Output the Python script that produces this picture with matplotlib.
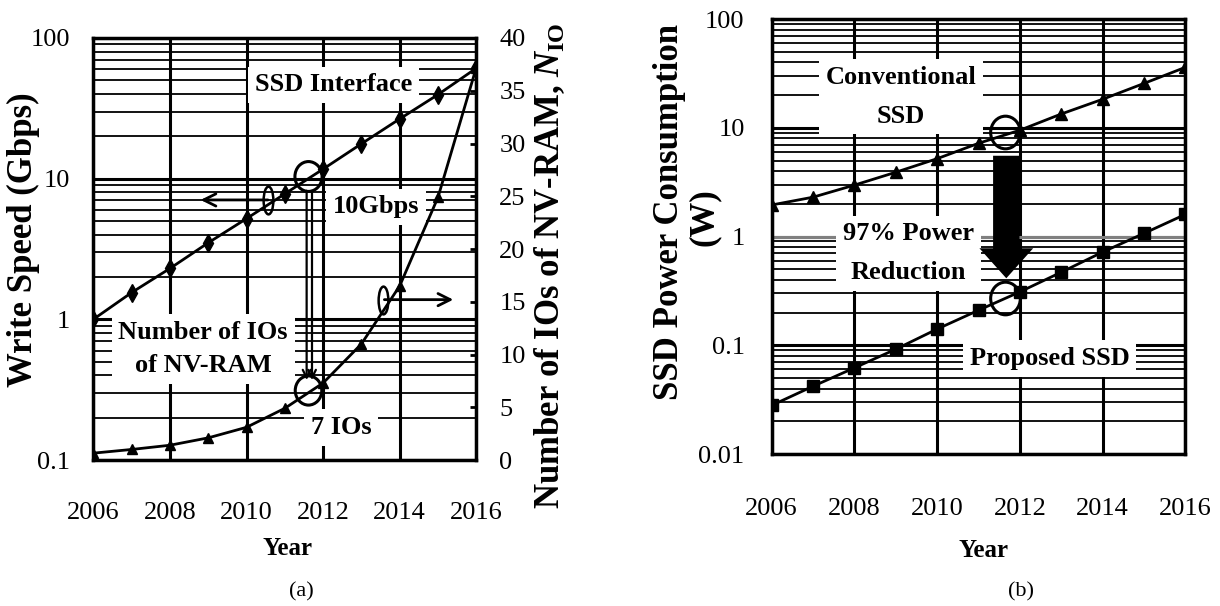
import numpy as np
import matplotlib
matplotlib.use("Agg")
import matplotlib.pyplot as plt
from matplotlib.path import Path
from matplotlib.ticker import LogLocator, NullFormatter, FixedLocator, FixedFormatter

plt.rcParams["font.family"] = "Liberation Serif"
plt.rcParams["mathtext.fontset"] = "custom"
plt.rcParams["mathtext.rm"] = "Liberation Serif:bold"
plt.rcParams["mathtext.it"] = "Liberation Serif:italic:bold"

years = [2006, 2007, 2008, 2009, 2010, 2011, 2012, 2013, 2014, 2015, 2016]
year_ticks = [2006, 2008, 2010, 2012, 2014, 2016]

# (a) write speed of SSD interface (Gbps) and number of NV-RAM IOs
ssd_interface = [1.0, 1.55, 2.3, 3.5, 5.2, 7.8, 11.7, 17.7, 26.6, 39.6, 61]
nvram_ios = [0.65, 1.0, 1.4, 2.1, 3.1, 4.9, 7.3, 11.0, 16.5, 24.9, 37.2]
speed_ticks = [0.1, 1, 10, 100]
speed_labels = ["0.1", "1", "10", "100"]
io_ticks = [0, 5, 10, 15, 20, 25, 30, 35, 40]

# (b) SSD power consumption (W)
conventional = [1.95, 2.3, 2.97, 3.9, 5.2, 7.2, 9.5, 13.4, 18.3, 25.6, 36]
proposed = [0.028, 0.042, 0.062, 0.092, 0.141, 0.21, 0.31, 0.47, 0.72, 1.07, 1.6]
power_ticks = [0.01, 0.1, 1, 10, 100]
power_labels = ["0.01", "0.1", "1", "10", "100"]

TICK_FS = 19
LABEL_FS = 25
NOTE_FS = 19
box = dict(facecolor="white", edgecolor="none", pad=5)


def oval(sx, sy):
    c = Path.unit_circle()
    return Path(c.vertices * [sx, sy], c.codes)


ring = oval(1.0, 1.1)
loop = oval(0.35, 1.0)


def log_grid(ax, ticks, labels, pad):
    ax.set_yscale("log")
    ax.yaxis.set_major_locator(FixedLocator(ticks))
    ax.yaxis.set_major_formatter(FixedFormatter(labels))
    ax.yaxis.set_minor_locator(LogLocator(base=10, subs=np.arange(2, 10)))
    ax.yaxis.set_minor_formatter(NullFormatter())
    ax.set_xlim(2006, 2016)
    ax.set_xticks(year_ticks)
    ax.grid(True, which="major", axis="both", color="black", lw=2.2)
    ax.grid(True, which="minor", axis="y", color="black", lw=1.3)
    ax.tick_params(axis="both", which="both", length=0, labelsize=TICK_FS)
    ax.tick_params(axis="x", pad=pad)
    for s in ax.spines.values():
        s.set_linewidth(2.5)


fig = plt.figure(figsize=(12.2, 6.06), dpi=100)

# ---------------- (a) ----------------
ax1 = fig.add_axes([0.0765, 0.2409, 0.3139, 0.6964])
log_grid(ax1, speed_ticks, speed_labels, 30)
ax1.set_ylim(0.1, 100)
ax1.tick_params(axis="y", pad=16.5)
ax1.plot(years, ssd_interface, color="black", lw=2, marker="d", ms=9, zorder=3)

ax2 = ax1.twinx()
ax2.set_ylim(0, 40)
ax2.set_yticks(io_ticks)
ax2.tick_params(axis="y", direction="in", length=4.5, width=2, labelsize=TICK_FS, pad=16.5)
ax2.plot(years, nvram_ios, color="black", lw=2, marker="^", ms=7, zorder=3)

ax1.set_ylabel("Write Speed (Gbps)", fontsize=LABEL_FS, fontweight="bold", va="center", ha="center")
ax1.yaxis.set_label_coords(-0.1836, 0.521)
ax2.set_ylabel(r"Number of IOs of NV-RAM, $N_{\mathrm{IO}}$", fontsize=LABEL_FS,
               fontweight="bold", rotation=90, va="center", ha="center")
ax2.yaxis.set_label_coords(1.192, 0.46)
ax1.set_xlabel("Year", fontsize=18, fontweight="bold", va="center")
ax1.xaxis.set_label_coords(0.506, -0.2085)

ax1.text(2012.28, 46.4, "SSD Interface", fontsize=NOTE_FS, fontweight="bold",
         ha="center", va="center", bbox=box, zorder=2)
ax1.text(2013.39, 6.3, "10Gbps", fontsize=NOTE_FS, fontweight="bold",
         ha="center", va="center", bbox=box, zorder=2)
ax1.text(2008.87, 0.615, "Number of IOs\nof NV-RAM", fontsize=NOTE_FS, fontweight="bold",
         ha="center", va="center", linespacing=1.55, bbox=box, zorder=2)
ax1.text(2012.47, 0.171, "7 IOs", fontsize=NOTE_FS, fontweight="bold",
         ha="center", va="center", bbox=box, zorder=2)

ax1.plot([2011.6], [10.5], marker=ring, ms=21.5, mfc="none", mec="black", mew=2.2, zorder=4)
ax1.plot([2011.6], [0.314], marker=ring, ms=21, mfc="none", mec="black", mew=2.2, zorder=4)
for xa in (2011.57, 2011.71):
    ax1.annotate("", xy=(xa, 0.37), xytext=(xa, 8.2),
                 arrowprops=dict(arrowstyle="->", lw=1.6, color="black",
                                 mutation_scale=14, shrinkA=0, shrinkB=0), zorder=4)

ax1.annotate("", xy=(2008.8, 7.06), xytext=(2010.56, 7.06),
             arrowprops=dict(arrowstyle="->", lw=2, color="black",
                             mutation_scale=22, shrinkA=0, shrinkB=0))
ax1.plot([2010.56], [7.06], marker=loop, ms=20, mfc="none", mec="black", mew=1.8, zorder=4)
ax2.annotate("", xy=(2015.4, 15.2), xytext=(2013.6, 15.2),
             arrowprops=dict(arrowstyle="->", lw=2, color="black",
                             mutation_scale=22, shrinkA=0, shrinkB=0))
ax2.plot([2013.57], [15.2], marker=loop, ms=20, mfc="none", mec="black", mew=1.8, zorder=4)

fig.text(0.247, 0.0231, "(a)", fontsize=16, ha="center", va="center")

# ---------------- (b) ----------------
ax3 = fig.add_axes([0.6325, 0.2508, 0.3392, 0.7178])
log_grid(ax3, power_ticks, power_labels, 32)
ax3.set_ylim(0.01, 100)
ax3.tick_params(axis="y", pad=19.5)
ax3.axhline(1, color="gray", lw=2.2, zorder=1.6)

ax3.plot(years, conventional, color="black", lw=2, marker="^", ms=8.5, zorder=3)
ax3.plot(years, proposed, color="black", lw=2, marker="s", ms=8.5, zorder=3)

ax3.set_ylabel("SSD Power Consumption", fontsize=LABEL_FS, fontweight="bold",
               va="center", ha="center")
ax3.yaxis.set_label_coords(-0.2458, 0.557)
ax3.text(-0.1636, 0.545, "(W)", transform=ax3.transAxes, fontsize=LABEL_FS,
         fontweight="bold", rotation=90, ha="center", va="center")
ax3.set_xlabel("Year", fontsize=18, fontweight="bold", va="center")
ax3.xaxis.set_label_coords(0.512, -0.2207)

ax3.text(2009.12, 19.2, "Conventional\nSSD", fontsize=NOTE_FS, fontweight="bold",
         ha="center", va="center", linespacing=1.85, bbox=box, zorder=2)
ax3.text(2009.31, 0.705, "97% Power\nReduction", fontsize=NOTE_FS, fontweight="bold",
         ha="center", va="center", linespacing=1.85, bbox=box, zorder=2)
ax3.text(2012.72, 0.076, "Proposed SSD", fontsize=NOTE_FS, fontweight="bold",
         ha="center", va="center", bbox=box, zorder=2)

ax3.plot([2011.64], [9.2], marker=ring, ms=23.5, mfc="none", mec="black", mew=2.2, zorder=4)
ax3.plot([2011.64], [0.272], marker=ring, ms=23.5, mfc="none", mec="black", mew=2.2, zorder=4)
ax3.annotate("", xy=(2011.67, 0.413), xytext=(2011.67, 5.53),
             arrowprops=dict(arrowstyle="simple,head_length=21.6,head_width=38.7,tail_width=19",
                             mutation_scale=1, fc="black", ec="black", lw=0,
                             shrinkA=0, shrinkB=0), zorder=4)

fig.text(0.837, 0.0231, "(b)", fontsize=16, ha="center", va="center")

fig.savefig("out.png", dpi=100)
